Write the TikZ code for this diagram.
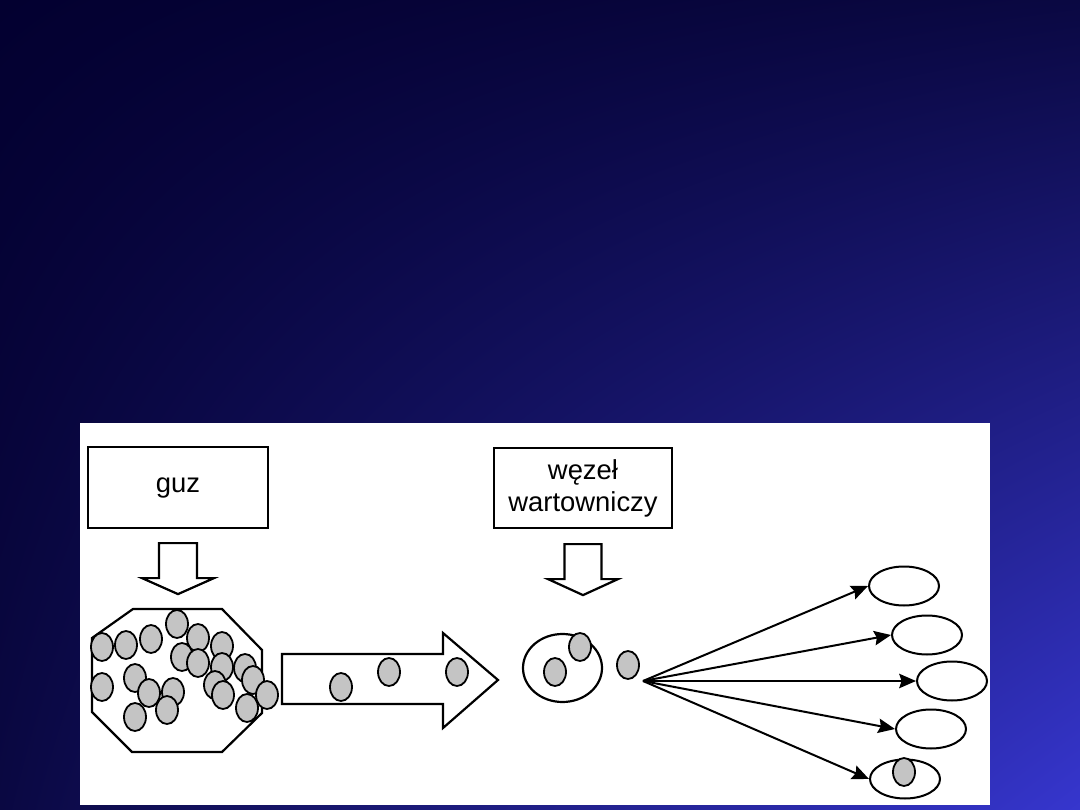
\documentclass[tikz,border=0pt]{standalone}
\usepackage{fontspec}
\setmainfont{Liberation Sans}
\usetikzlibrary{arrows.meta, positioning, calc, shapes.geometric, shadings}
\definecolor{bgdark}{RGB}{3,0,48}
\definecolor{bgmid}{RGB}{10,8,66}
\definecolor{bglight}{RGB}{54,54,206}
\definecolor{cellgray}{RGB}{196,196,196}

\begin{document}
\begin{tikzpicture}[%
  x=0.25mm, y=-0.25mm,
  every node/.style={align=center, font=\fontsize{19.5}{22.8}\selectfont},
  labelbox/.style={draw, line width=0.55mm, inner sep=0pt},
  cell/.style={ellipse, draw, fill=cellgray, line width=0.45mm, minimum width=5.5mm, minimum height=7mm, inner sep=0pt},
  lnode/.style={ellipse, draw, line width=0.5mm, minimum width=17.5mm, minimum height=9.75mm, inner sep=0pt},
  hollow/.style={draw, fill=white, line width=0.55mm, line join=miter},
  arr/.style={-{Stealth[length=4.2mm, width=3.6mm, inset=0.6mm]}, line width=0.5mm}
]
% background and panel
\shade[upper left=bgdark, upper right=bgmid, lower left=bgmid, lower right=bglight] (0,0) rectangle (1080,810);
\fill[white] (80,423) rectangle (990,805);

% 1. Labels
\node[labelbox, minimum width=45mm, minimum height=20.25mm] (guz) at (178,487.5) {guz};
\node[labelbox, minimum width=44.5mm, minimum height=20mm] (wezel) at (583,488) {węzeł\\wartowniczy};

% 2. Hollow arrows below the labels
\draw[hollow] ($(guz.south)+(-19,14)$) -- ++(0,35) -- ++(-17,0) -- ($(guz.south)+(0,65)$) -- ++(36,-16) -- ++(-17,0) -- ++(0,-35) -- cycle;
\draw[hollow] ($(wezel.south)+(-18.5,15)$) -- ++(0,35) -- ++(-16.5,0) -- ($(wezel.south)+(0,66)$) -- ++(35,-16) -- ++(-16.5,0) -- ++(0,-35) -- cycle;

% 3. Tumour
\draw[line width=0.55mm] (133,609) -- (222,609) -- (262,650) -- (262,713) -- (222,752) -- (132,752) -- (92,712) -- (92,638) -- cycle;
\foreach \x/\y [count=\i] in {102/647, 126/645, 151/639, 177/624, 198/638, 222/646, 182/657, 198/663, 222/667, 245/668,
  253/680, 267/695, 102/687, 135/678, 149/693, 173/692, 215/685, 223/695, 135/717, 167/710, 247/708}
  \node[cell] (c\i) at (\x,\y) {};

% 4. Spread
\draw[hollow] (282,654) -- (443,654) -- (443,633) -- (498,680) -- (443,728) -- (443,704) -- (282,704) -- cycle;
\node[cell] (m1) at (341,687) {};
\node[cell] (m2) at (389,672) {};
\node[cell] (m3) at (457,672) {};

% 5. Sentinel node
\node[ellipse, draw, line width=0.55mm, minimum width=19.75mm, minimum height=17mm, inner sep=0pt] (sln) at (562.5,668) {};
\node[cell] (s1) at (580,647) {};
\node[cell] (s2) at (555,672) {};
\node[cell] (s3) at (628,665) {};

% 6. Further nodes
\coordinate (fan) at (643,681);
\foreach \x/\y [count=\i] in {904/586, 927/635, 952/681, 931/729, 905/779}
  \node[lnode] (t\i) at (\x,\y) {};
\foreach \i in {1,...,5}
  \draw[arr] (fan) -- (t\i.west);
\node[cell] (s4) at (904,772) {};

\end{tikzpicture}
\end{document}
